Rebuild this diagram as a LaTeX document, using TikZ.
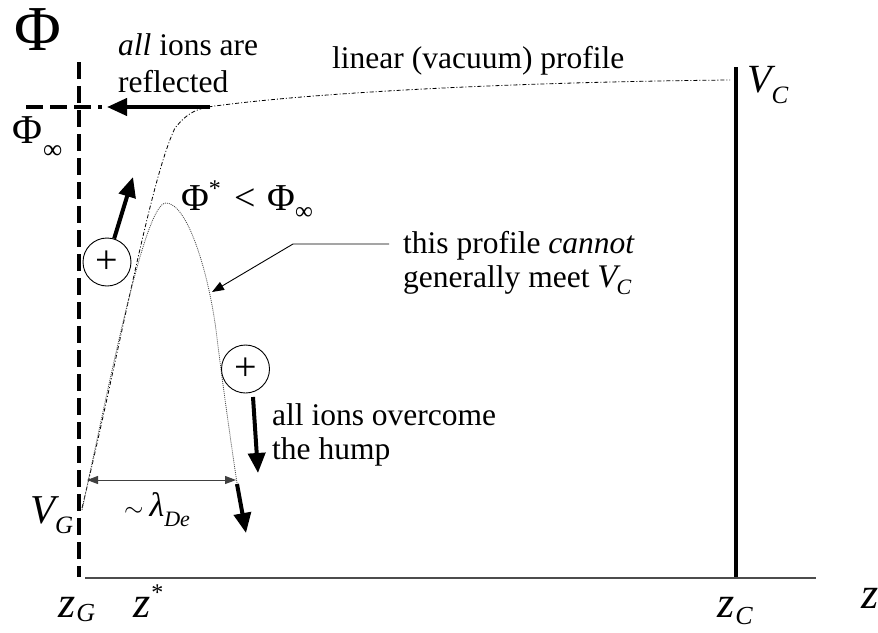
\documentclass[tikz,border=0pt]{standalone}
\usepackage{fontspec}
\setmainfont{Liberation Serif}
\usetikzlibrary{arrows.meta}
\newcommand\fs[1]{\fontsize{#1}{#1}\selectfont}
\begin{document}
\begin{tikzpicture}[x=1pt,y=-1pt,
  lbl/.style={inner sep=0pt,anchor=base west,font=\fs{31.5}},
  gate/.style={line width=4.5pt,dash pattern=on 17pt off 7pt},
  wall/.style={line width=4pt},
  axisline/.style={line width=1.3pt,black!70},
  vacuum/.style={line width=0.8pt,dash pattern=on 4pt off 2pt on 1pt off 2pt},
  hump/.style={line width=0.8pt,black!70,dash pattern=on 1pt off 1pt},
  thickarrow/.style={line width=4pt,-{Triangle[length=20pt,width=17pt]}},
  dimarrow/.style={line width=1pt,black!75,{Triangle[length=11pt,width=8pt]}-{Triangle[length=11pt,width=8pt]}},
  pointer/.style={line width=0.9pt,-{Triangle[length=12pt,width=9pt]}},
  ion/.style={circle,draw,line width=0.9pt,minimum size=48pt,inner sep=0pt,font=\fs{40}}]
\useasboundingbox (0,0) rectangle (878,632);

% walls and axis
\coordinate (gtop) at (79,62); \coordinate (gbot) at (79,577);
\draw[gate] (gtop) -- (gbot);
\coordinate (hl) at (26,107); \coordinate (hr) at (102,107);
\draw[gate] (hl) -- (hr);
\coordinate (ctop) at (736,67); \coordinate (cbot) at (736,578);
\draw[wall] (ctop) -- (cbot);
\coordinate (a0) at (85,578); \coordinate (a1) at (816,578);
\draw[axisline] (a0) -- (a1);

% profiles
\draw[vacuum] (82,508) .. controls (120,350) and (150,180) .. (175,128)
  .. controls (188,112) and (198,108) .. (215,106)
  .. controls (320,92) and (520,82) .. (730,80);
\draw[hump] (82,510) .. controls (110,380) and (145,202) .. (166,203)
  .. controls (187,203) and (208,270) .. (216,330)
  .. controls (222,380) and (232,450) .. (237,483);

% reflected arrow
\coordinate (rs) at (210,107); \coordinate (rt) at (107,107);
\draw[thickarrow] (rs) -- (rt);

% ions
\node[ion] (c1) at (107,262) {+};
\node[ion] (c2) at (245.5,369) {+};
\coordinate (u1) at (133,177);
\draw[thickarrow] (c1) -- (u1);
\coordinate (d2s) at (253,397); \coordinate (d2) at (258,473);
\draw[thickarrow] (d2s) -- (d2);
\coordinate (d3s) at (237,484); \coordinate (d3) at (246,533);
\draw[thickarrow] (d3s) -- (d3);

% debye length
\coordinate (l0) at (87,480); \coordinate (l1) at (236,480);
\draw[dimarrow] (l0) -- (l1);

% pointer
\coordinate (p0) at (389,244); \coordinate (p1) at (293,244); \coordinate (p2) at (212,292);
\draw[pointer] (p0) -- (p1) -- (p2);

% texts
\node[inner sep=0pt,font=\fs{64}] (phi) at (38,30) {Φ};
\node[lbl] (phiinf) at (12,143) {{\fs{41}Φ}\kern1pt\raisebox{-15pt}{\fs{27}∞}};
\node[lbl] (t1) at (118,55) {\textit{all} ions are};
\node[lbl] (t2) at (118,92) {reflected};
\node[lbl] (t3) at (332,68) {linear (vacuum) profile};
\node[lbl] (t4) at (403,253) {this profile \textit{cannot}};
\node[lbl] (t5) at (403,287) {generally meet {\fs{33}\itshape V}\kern-1pt\raisebox{-7pt}{\fs{22}\itshape C}};
\node[lbl] (t6) at (272,425) {all ions overcome};
\node[lbl] (t7) at (272,459) {the hump};
\node[lbl] (hm) at (181,210) {{\fs{38}Φ}\raisebox{14pt}{\fs{24}*}\kern14pt{\fs{38}<}\kern11pt{\fs{38}Φ}\raisebox{-9pt}{\fs{25}∞}};
\node[lbl] (lam) at (124,516) {{\fs{34}$\sim$}\kern6pt{\fs{34}\itshape λ}\raisebox{-10pt}{\fs{22}\itshape De}};
\node[lbl] (vg) at (30,523) {{\fs{41}\itshape V}\kern0pt\raisebox{-10pt}{\fs{25}\itshape G}};
\node[lbl] (vc) at (747,92) {{\fs{40}\itshape V}\kern0pt\raisebox{-11pt}{\fs{25}\itshape C}};
\node[lbl] (zg) at (58,617) {{\fs{44}\itshape z}\kern1pt\raisebox{-4pt}{\fs{26}\itshape G}};
\node[lbl] (zs) at (133,617) {{\fs{44}\itshape z}\kern1pt\raisebox{17pt}{\fs{24}*}};
\node[lbl] (zc) at (717,617) {{\fs{44}\itshape z}\kern1pt\raisebox{-7pt}{\fs{26}\itshape C}};
\node[lbl] (zz) at (861,608) {{\fs{44}\itshape z}};
\end{tikzpicture}
\end{document}
